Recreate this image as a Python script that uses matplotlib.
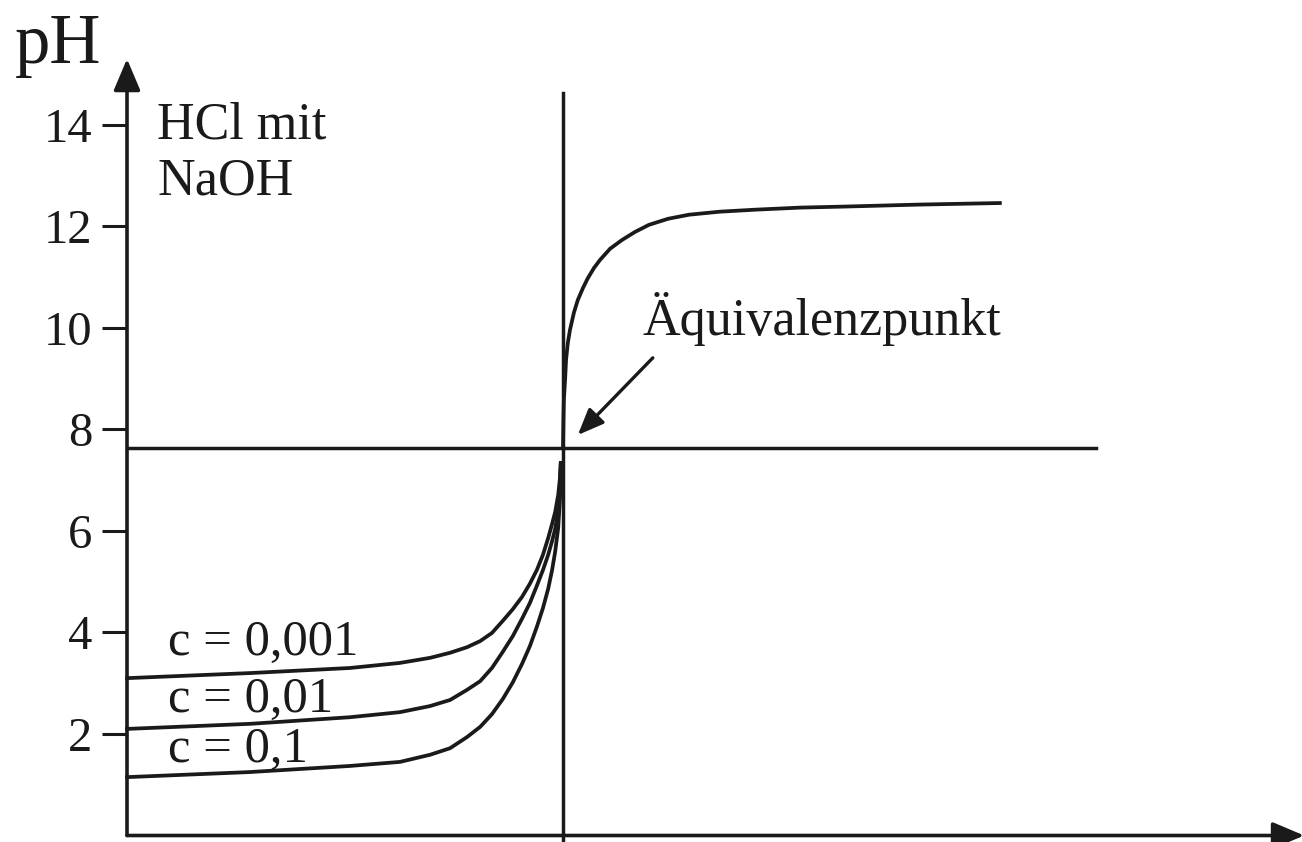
import matplotlib.pyplot as plt

plt.rcParams['font.family'] = ['Liberation Serif', 'DejaVu Serif']

INK = '#1a1a1a'

# volume of NaOH (mL, equivalence at 10) and pH
vol_acid = [0.0, 2.82, 5.11, 6.26, 6.95, 7.41, 7.80, 8.10, 8.37, 8.62, 8.85,
            9.06, 9.24, 9.40, 9.54, 9.66, 9.75, 9.82, 9.89, 9.93, 9.95]
ph_c0001 = [3.10, 3.20, 3.30, 3.40, 3.50, 3.60, 3.71, 3.83, 3.99, 4.23, 4.46,
            4.70, 4.96, 5.23, 5.53, 5.86, 6.14, 6.37, 6.71, 7.04, 7.34]
ph_c001 = [2.10, 2.20, 2.33, 2.43, 2.55, 2.67, 2.87, 3.04, 3.30, 3.62, 3.93,
           4.27, 4.58, 4.92, 5.23, 5.53, 5.80, 6.04, 6.41, 6.81, 7.34]
ph_c01 = [1.15, 1.25, 1.37, 1.45, 1.59, 1.72, 1.94, 2.14, 2.39, 2.69, 3.02,
          3.38, 3.73, 4.11, 4.48, 4.86, 5.23, 5.59, 6.06, 6.61, 7.34]

vol_base = [10.0, 10.01, 10.02, 10.05, 10.07, 10.11, 10.16, 10.25, 10.34,
            10.46, 10.57, 10.71, 10.85, 11.08, 11.35, 11.65, 11.97, 12.41,
            12.89, 13.60, 14.43, 15.44, 16.44, 18.19, 20.02]
ph_base = [7.64, 8.19, 8.58, 9.01, 9.37, 9.70, 9.96, 10.30, 10.55, 10.79,
           10.98, 11.18, 11.34, 11.56, 11.73, 11.89, 12.03, 12.15, 12.23,
           12.29, 12.33, 12.37, 12.39, 12.43, 12.46]

curve_labels = ['c = 0,001', 'c = 0,01', 'c = 0,1']
label_ph = [3.56, 2.43, 1.45]

ph_ticks = [2, 4, 6, 8, 10, 12, 14]
eq_vol = 10.0
eq_ph = 7.64

fig = plt.figure(figsize=(13.02, 8.42), dpi=100)
ax = fig.add_axes([0, 0, 1, 1])
ax.set_xlim(-2.913, 26.95)
ax.set_ylim(-0.128, 16.46)

for s in ['top', 'right', 'bottom', 'left']:
    ax.spines[s].set_visible(False)
ax.spines['left'].set_position(('data', 0))

ax.set_xticks([])
ax.set_yticks(ph_ticks)
ax.set_yticklabels([str(t) for t in ph_ticks])
ax.tick_params(axis='y', direction='out', length=18, width=2.2, pad=7,
               labelsize=35, colors=INK)

# axes with arrow heads
axis_arrow = dict(arrowstyle='-|>,head_length=0.97,head_width=0.41',
                  mutation_scale=20, lw=2.6, color=INK, shrinkA=0, shrinkB=0)
ax.annotate('', xy=(0, 15.3), xytext=(0, 0), arrowprops=axis_arrow,
            annotation_clip=False)
ax.annotate('', xy=(27.0, 0), xytext=(0, 0), arrowprops=axis_arrow,
            annotation_clip=False)

# equivalence lines
ax.plot([eq_vol, eq_vol], [-0.2, 14.63], color=INK, lw=2.5)
ax.plot([0, 22.22], [eq_ph, eq_ph], color=INK, lw=2.5)

# titration curves
for ph in [ph_c0001, ph_c001, ph_c01]:
    ax.plot(vol_acid, ph, color=INK, lw=2.7, solid_joinstyle='round')
ax.plot(vol_base, ph_base, color=INK, lw=2.7, solid_joinstyle='round')

for lab, y in zip(curve_labels, label_ph):
    ax.text(0.94, y, lab, fontsize=36.5, color=INK, va='baseline', ha='left')

ax.text(-2.57, 15.22, 'pH', fontsize=51, color=INK, va='baseline', ha='left')
ax.text(0.69, 13.74, 'HCl mit', fontsize=37.5, color=INK, va='baseline', ha='left')
ax.text(0.69, 12.62, 'NaOH', fontsize=37.5, color=INK, va='baseline', ha='left')

ax.text(11.83, 9.86, 'Äquivalenzpunkt', fontsize=37.5, color=INK,
        va='baseline', ha='left')
ax.annotate('', xy=(10.34, 7.89), xytext=(12.06, 9.41),
            arrowprops=dict(arrowstyle='-|>,head_length=0.8,head_width=0.33',
                            mutation_scale=20, lw=2.4, color=INK,
                            shrinkA=0, shrinkB=0))

fig.savefig('out.png', dpi=100)
